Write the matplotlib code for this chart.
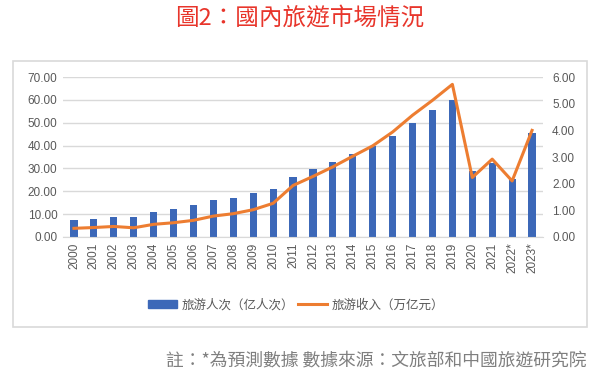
import matplotlib
matplotlib.use("Agg")
import matplotlib.pyplot as plt
from matplotlib.patches import Rectangle, Patch
from matplotlib.lines import Line2D

plt.rcParams['font.family'] = ['Noto Sans CJK TC', 'DejaVu Sans']

years = ['2000', '2001', '2002', '2003', '2004', '2005', '2006', '2007', '2008', '2009',
         '2010', '2011', '2012', '2013', '2014', '2015', '2016', '2017', '2018', '2019',
         '2020', '2021', '2022*', '2023*']
trips = [7.44, 7.84, 8.78, 8.70, 11.02, 12.12, 13.94, 16.10, 17.12, 19.02,
         21.03, 26.41, 29.57, 32.62, 36.11, 40.00, 44.40, 50.01, 55.39, 60.06,
         28.79, 32.46, 25.30, 45.50]
revenue = [0.32, 0.35, 0.39, 0.34, 0.47, 0.53, 0.62, 0.78, 0.87, 1.02,
           1.26, 1.93, 2.27, 2.63, 3.03, 3.42, 3.94, 4.57, 5.13, 5.73,
           2.23, 2.92, 2.10, 4.00]

blue = '#3C68B8'
orange = '#ED7D31'
grey = '#595959'
num_font = ['Liberation Sans', 'DejaVu Sans']

fig = plt.figure(figsize=(6, 3.82), dpi=100)

# 外框
fig.patches.append(Rectangle((13 / 600, 1 - 327 / 382), 574 / 600, 266 / 382,
                             transform=fig.transFigure, fill=False,
                             edgecolor='#D9D9D9', linewidth=1.2))

ax = fig.add_axes([0.105, 0.380, 0.800, 0.418])
x = range(len(years))
ax.bar(x, trips, width=0.36, color=blue, zorder=2)
ax.set_ylim(0, 70)
ax.set_yticks(range(0, 71, 10))
ax.set_yticklabels(['{:.2f}'.format(v) for v in range(0, 71, 10)], family=num_font)
ax.set_xlim(-0.55, len(years) - 0.45)
ax.set_xticks(list(x))
ax.set_xticklabels(years, rotation=90, family=num_font)
ax.grid(axis='y', color='#D9D9D9', linewidth=1, zorder=0)
for s in ['top', 'left', 'right']:
    ax.spines[s].set_visible(False)
ax.spines['bottom'].set_color('#D9D9D9')
ax.tick_params(length=0, labelsize=8.5, colors=grey, pad=4)

ax2 = ax.twinx()
ax2.plot(list(x), revenue, color=orange, linewidth=2.2, zorder=3)
ax2.set_ylim(0, 6)
ax2.set_yticks(range(0, 7))
ax2.set_yticklabels(['{:.2f}'.format(v) for v in range(0, 7)], family=num_font)
for s in ['top', 'left', 'right', 'bottom']:
    ax2.spines[s].set_visible(False)
ax2.tick_params(length=0, labelsize=8.5, colors=grey, pad=6.5)

handles = [Patch(color=blue), Line2D([0], [0], color=orange, linewidth=2.2)]
fig.legend(handles, ['旅游人次（亿人次）', '旅游收入（万亿元）'],
           loc='center', bbox_to_anchor=(296 / 600, 1 - 305 / 382), ncol=2, frameon=False,
           prop={'family': ['Noto Sans CJK SC', 'DejaVu Sans'], 'size': 9},
           labelcolor=grey, handlelength=2.3, handleheight=0.55, columnspacing=0.3,
           handletextpad=0.4)

fig.text(0.5, 1 - 18 / 382, '圖2：國內旅遊市場情況', ha='center', va='center',
         color='#E8352B', fontsize=17)
fig.text(586 / 600, 1 - 360 / 382, '註：*為預測數據 數據來源：文旅部和中國旅遊研究院',
         ha='right', va='center', color='#7F7F7F', fontsize=12.8)

fig.savefig('out.png', dpi=100)
